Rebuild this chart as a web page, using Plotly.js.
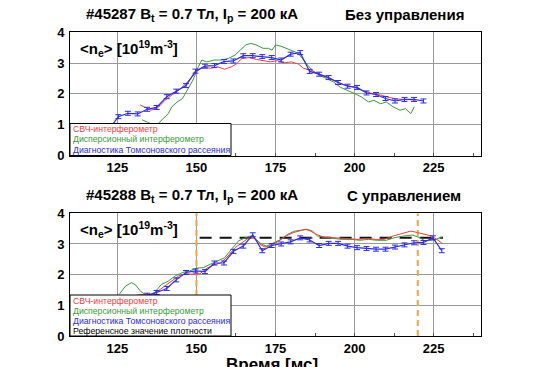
<!DOCTYPE html>
<html><head><meta charset="utf-8">
<script src="https://cdn.plot.ly/plotly-3.0.1.min.js"></script>
<style>html,body{margin:0;padding:0;background:#fff;}#chart{width:555px;height:367px;}</style>
</head><body><div id="chart"></div>
<script>
// ---------- Data: shot #45287 (no control) ----------
const topMwTime = [132.2,133.3,135.6,137.8,140,142.2,144.4,146.7,148.9,150.6,152.2,154.4,156.7,158.9,161.1,162.8,164.4,166.7,168.9,171.1,173.3,175.6,177.8,180,182.2,183.9,186.1,188.9,191.7,194.4,197.2,200,202.8,205.6,208.3,211.1,213.9,216.7,219.4];
const topMwVal  = [1.64,1.58,1.47,1.55,1.79,1.96,2.12,2.34,2.58,2.77,2.88,2.83,2.88,2.80,2.88,2.99,3.15,3.18,3.12,3.07,3.04,3.08,3.01,3.04,2.97,2.83,2.77,2.64,2.50,2.39,2.28,2.21,2.10,2.01,1.96,1.88,1.83,1.82,1.80];
const topDispTime = [132.8,135.6,137.8,139.4,141.1,142.2,143.9,145.6,147.2,148.9,150.6,151.7,153.3,155.6,157.8,160,162.2,163.9,165.6,167.2,168.9,171.1,172.8,173.9,175,176.7,178.3,180,182.2,183.9,185.6,187.2,188.9,191.1,193.3,195.6,197.8,200,202.2,204.4,206.1,208.3,210,212.2,214.4,216.1,217.8,218.9];
const topDispVal  = [1.16,1.03,1.03,1.20,1.36,1.58,1.74,1.85,2.12,2.45,2.88,3.10,3.04,3.10,3.10,3.15,3.26,3.42,3.59,3.64,3.59,3.48,3.48,3.42,3.59,3.55,3.48,3.42,3.32,3.10,2.88,2.72,2.61,2.50,2.39,2.21,2.12,2.01,1.90,1.74,1.79,1.68,1.74,1.58,1.47,1.52,1.36,1.58];
const topThomTime = [122.3,125.3,128.3,131.4,134.4,137.4,140.6,143.6,146.7,149.7,152.7,155.7,158.7,161.7,164.8,167.8,170.8,173.8,176.8,179.8,182.8,185.8,188.8,191.8,194.8,197.8,200.8,203.8,206.8,209.8,212.8,215.8,218.8,221.8];
const topThomVal  = [0.85,1.26,1.37,1.35,1.50,1.56,1.91,2.09,2.27,2.74,2.90,2.92,3.05,3.07,3.24,3.24,3.21,3.18,3.10,3.29,3.34,2.73,2.64,2.53,2.37,2.25,2.21,2.03,1.98,1.85,1.77,1.82,1.82,1.77];

// ---------- Data: shot #45288 (with control) ----------
const botMwTime = [129.4,133.3,135.6,137.8,140,142.2,144.4,146.7,148.9,151.1,153.3,155.6,157.8,160,162.2,164.4,166.7,168.3,170,171.7,173.9,176.1,178.3,180.6,182.8,184.4,186.1,187.8,190,192.8,195.6,198.3,201.1,203.9,206.7,209.4,212.2,215,217.8,220,222.2,224.4,226.7,227.8];
const botMwVal  = [1.30,1.36,1.30,1.47,1.63,1.79,1.96,2.03,2.01,2.03,2.21,2.32,2.39,2.61,2.88,3.04,3.21,3.18,2.99,2.90,2.96,3.10,3.26,3.37,3.42,3.48,3.42,3.32,3.23,3.21,3.18,3.15,3.15,3.18,3.15,3.15,3.26,3.34,3.42,3.37,3.32,3.26,3.10,3.01];
const botDispTime = [125.6,127.5,129.4,130.8,132.2,134.4,136.7,138.9,141.1,143.3,145.6,147.8,150,152.2,154.4,156.7,158.9,161.1,163.3,165.6,167.2,168.9,170.6,172.2,174.4,176.7,178.9,181.1,183.3,185,186.7,188.3,190.6,193.3,196.1,198.9,201.7,204.4,207.2,210,212.8,215.6,218.3,220.6,222.2,223.9,225.6,227.8];
const botDispVal  = [1.36,1.62,1.74,1.66,1.47,1.30,1.41,1.68,1.79,1.96,2.07,2.12,2.21,2.23,2.34,2.45,2.55,2.83,3.10,3.21,3.26,3.15,2.99,2.93,3.04,3.15,3.32,3.42,3.45,3.48,3.42,3.26,3.21,3.18,3.15,3.15,3.12,3.15,3.12,3.12,3.21,3.26,3.29,3.21,3.10,3.12,3.15,3.23];
const botThomTime = [131.4,134.4,137.4,140.6,143.6,146.7,149.7,152.7,155.7,158.7,161.7,164.8,167.8,170.8,173.8,176.8,179.8,182.8,185.8,188.8,191.8,194.8,197.8,200.8,203.8,206.8,209.8,212.8,215.8,218.8,221.8,224.8,227.6];
const botThomVal  = [1.20,1.33,1.42,1.55,1.83,2.07,2.12,2.10,2.38,2.38,2.76,2.93,3.30,2.78,2.95,3.00,3.07,3.20,3.13,2.95,3.02,3.02,2.93,2.88,2.85,2.83,2.83,2.90,2.97,3.04,3.05,3.20,2.78];
const refTime = [151, 228];
const refVal  = [3.2, 3.2];
const ctrlTimes = [150, 220];

// ---------- Labels ----------
const topTitle = '#45287 B<sub>t</sub> = 0.7 Тл, I<sub>p</sub> = 200 кА';
const topMode = 'Без управления';
const botTitle = '#45288 B<sub>t</sub> = 0.7 Тл, I<sub>p</sub> = 200 кА';
const botMode = 'С управлением';
const yLabel = '&lt;n<sub>e</sub>&gt; [10<sup>19</sup>m<sup>-3</sup>]';
const xLabel = 'Время [мс]';
const legendNames = ['СВЧ-интерферометр','Дисперсионный интерферометр','Диагностика Томсоновского рассеяния','Референсное значение плотности'];
const xTicks = [125,150,175,200,225];
const yTicks = [0,1,2,3,4];

// ---------- Styling ----------
const W = 555, H = 367;
const RED = '#f03c3c', GREEN = '#3c9a3c', BLUE = '#2c2ce0', ORANGE = '#f2a33a';
const FONT = 'Liberation Sans, Arial, sans-serif';
const px = v => v / W, py = v => (H - v) / H;

const xDom = [px(70), px(481)];
const topDom = [py(155.5), py(32.3)];
const botDom = [py(336), py(213.3)];

function line(x, y, color, ax, extra) {
  return Object.assign({x, y, type:'scatter', mode:'lines', xaxis:'x'+ax, yaxis:'y'+ax,
    line:{color, width:1}, hoverinfo:'skip', showlegend:false}, extra||{});
}
const errStyle = {type:'constant', value:0.065, color:BLUE, thickness:1, width:3};

const traces = [
  line(topDispTime, topDispVal, GREEN, ''),
  line(topMwTime, topMwVal, RED, ''),
  line(topThomTime, topThomVal, BLUE, '', {line:{color:BLUE,width:1.2}, error_y:errStyle}),
  line([ctrlTimes[0],ctrlTimes[0]], [0,4], ORANGE, '2', {line:{color:ORANGE,width:2,dash:'6px,4px'}}),
  line([ctrlTimes[1],ctrlTimes[1]], [0,4], ORANGE, '2', {line:{color:ORANGE,width:2,dash:'6px,4px'}}),
  line(refTime, refVal, '#111', '2', {line:{color:'#111',width:2,dash:'12px,8px'}}),
  line(botDispTime, botDispVal, GREEN, '2'),
  line(botMwTime, botMwVal, RED, '2'),
  line(botThomTime, botThomVal, BLUE, '2', {line:{color:BLUE,width:1.2}, error_y:errStyle}),
];

const tickFont = {family:FONT, size:13, color:'#000', weight:'bold'};
function xax(anchor) {
  return {domain:xDom, range:[110,240], anchor, tickvals:xTicks, ticktext:xTicks.map(String),
    showline:true, mirror:true, linecolor:'#000', linewidth:1, showgrid:true, gridcolor:'#999',
    gridwidth:1, zeroline:false, ticks:'', tickfont:tickFont,
    minor:{dtick:12.5, tick0:0, ticks:'inside', ticklen:3, tickcolor:'#555', showgrid:false}};
}
function yax(domain, anchor) {
  return {domain, range:[0,4], anchor, tickvals:yTicks, ticktext:yTicks.map(String),
    showline:true, mirror:true, linecolor:'#000', linewidth:1, showgrid:true, gridcolor:'#999',
    gridwidth:1, zeroline:false, ticks:'', tickfont:tickFont, ticklabelstandoff:2};
}

const titleFont = {family:FONT, size:15, color:'#000', weight:'bold'};
const legFont = {family:FONT, size:8.7, color:'#000'};
const legColors = [RED, GREEN, BLUE, '#000'];

function ann(text, x, y, font, extra) {
  return Object.assign({text, x:px(x), y:py(y), xref:'paper', yref:'paper', xanchor:'center', yanchor:'middle', showarrow:false, font}, extra||{});
}
const annotations = [
  ann(topTitle, 192, 14, titleFont),
  ann(topMode, 404, 14, titleFont),
  ann(botTitle, 192, 195, titleFont),
  ann(botMode, 404, 195, titleFont),
  ann(yLabel, 78, 48, titleFont, {xanchor:'left'}),
  ann(yLabel, 78, 229, titleFont, {xanchor:'left'}),
  ann(xLabel, 272, 353, {family:FONT,size:17,color:'#000',weight:'bold'}, {yanchor:'top'}),
];
const topLegY = [128.5, 139, 149.5];
const botLegY = [300.5, 310.5, 320.5, 330.5];
topLegY.forEach((yy,i)=>annotations.push(ann(legendNames[i], 71, yy, Object.assign({}, legFont, {color:legColors[i]}), {xanchor:'left'})));
botLegY.forEach((yy,i)=>annotations.push(ann(legendNames[i], 71, yy, Object.assign({}, legFont, {color:legColors[i]}), {xanchor:'left'})));

const shapes = [
  {type:'rect', xref:'paper', yref:'paper', x0:px(70), x1:px(231), y0:py(155.5), y1:py(123.5), fillcolor:'#fff', line:{color:'#000', width:1}, layer:'above'},
  {type:'rect', xref:'paper', yref:'paper', x0:px(70), x1:px(231), y0:py(336), y1:py(295), fillcolor:'#fff', line:{color:'#000', width:1}, layer:'above'},
];

const layout = {
  width:W, height:H, margin:{l:0,r:0,t:0,b:0}, paper_bgcolor:'#fff', plot_bgcolor:'#fff',
  showlegend:false, xaxis:xax('y'), yaxis:yax(topDom,'x'), xaxis2:xax('y2'), yaxis2:yax(botDom,'x2'),
  annotations, shapes, font:{family:FONT}
};
Plotly.newPlot('chart', traces, layout, {staticPlot:true, displayModeBar:false});
</script></body></html>
